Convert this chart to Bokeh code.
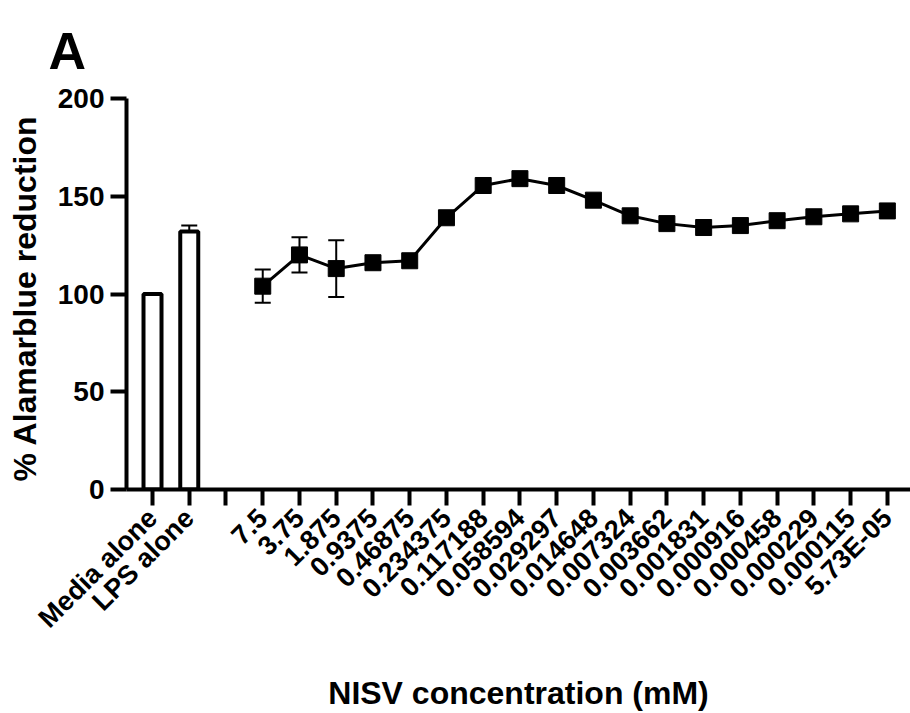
import math
from bokeh.plotting import figure
from bokeh.models import ColumnDataSource, Range1d, FixedTicker, Whisker, TeeHead
from bokeh.embed import file_html
from bokeh.resources import INLINE

# ---- data ----
bar_labels = ["Media alone", "LPS alone"]
bar_values = [100, 132]
bar_err = [0, 3]

conc_labels = ["7.5", "3.75", "1.875", "0.9375", "0.46875", "0.234375",
               "0.117188", "0.058594", "0.029297", "0.014648", "0.007324",
               "0.003662", "0.001831", "0.000916", "0.000458", "0.000229",
               "0.000115", "5.73E-05"]
conc_values = [104, 120, 113, 116, 117, 139, 155.5, 159, 155.5, 148, 140,
               136, 134, 135, 137.5, 139.5, 141, 142.5]
conc_err = [8.5, 9, 14.5, 0, 0, 0, 0, 0, 0, 0, 0, 0, 0, 0, 0, 0, 0, 0]

y_ticks = [0, 50, 100, 150, 200]

tick_labels = bar_labels + [""] + conc_labels
positions = list(range(len(tick_labels)))
bar_x = positions[:len(bar_labels)]
conc_x = positions[len(bar_labels) + 1:]

FONT = "Liberation Sans"

p = figure(width=910, height=713,
           x_range=Range1d(-0.708, 20.63), y_range=Range1d(0, 200),
           output_backend="svg", toolbar_location=None,
           min_border_left=126, min_border_right=0,
           min_border_top=98, min_border_bottom=224,
           title="A")
p.outline_line_color = None
p.grid.visible = False

# panel letter as the title
p.title.text_font = FONT
p.title.text_font_style = "bold"
p.title.text_font_size = "52px"
p.title.text_color = "black"
p.title.align = "left"
p.title.vertical_align = "bottom"
p.title.offset = -78
p.title.standoff = 38

# bars
p.vbar(x=bar_x, top=bar_values, bottom=0, width=0.49,
       fill_color="white", line_color="black", line_width=4)
bar_src = ColumnDataSource(dict(
    base=[x for x, e in zip(bar_x, bar_err) if e > 0],
    lower=[v for v, e in zip(bar_values, bar_err) if e > 0],
    upper=[v + e for v, e in zip(bar_values, bar_err) if e > 0]))
p.add_layout(Whisker(source=bar_src, base="base", lower="lower", upper="upper",
                     line_width=2, line_color="black",
                     upper_head=TeeHead(size=16, line_width=2, line_color="black"),
                     lower_head=None))

# line with markers
p.line(conc_x, conc_values, line_width=3, line_color="black")
err_src = ColumnDataSource(dict(
    base=[x for x, e in zip(conc_x, conc_err) if e > 0],
    lower=[v - e for v, e in zip(conc_values, conc_err) if e > 0],
    upper=[v + e for v, e in zip(conc_values, conc_err) if e > 0]))
p.add_layout(Whisker(source=err_src, base="base", lower="lower", upper="upper",
                     line_width=2, line_color="black",
                     upper_head=TeeHead(size=16, line_width=2, line_color="black"),
                     lower_head=TeeHead(size=16, line_width=2, line_color="black")))
p.scatter(conc_x, conc_values, marker="square", size=16,
          fill_color="black", line_color="black")

# axes
for ax in (p.xaxis[0], p.yaxis[0]):
    ax.axis_line_width = 4
    ax.axis_line_color = "black"
    ax.major_tick_line_width = 4
    ax.major_tick_line_color = "black"
    ax.major_tick_out = 16
    ax.major_tick_in = 0
    ax.minor_tick_line_color = None
    ax.major_label_text_font = FONT
    ax.major_label_text_font_style = "bold"
    ax.major_label_text_color = "black"
    ax.axis_label_text_font = FONT
    ax.axis_label_text_font_style = "bold"
    ax.axis_label_text_color = "black"
    ax.axis_label_text_font_size = "32px"

p.yaxis.ticker = FixedTicker(ticks=y_ticks)
p.yaxis.major_label_text_font_size = "28px"
p.yaxis.major_label_standoff = 6
p.yaxis.axis_label = "%  Alamarblue reduction"
p.yaxis.axis_label_standoff = 12

p.xaxis.ticker = FixedTicker(ticks=positions)
p.xaxis.major_label_overrides = {i: lab for i, lab in enumerate(tick_labels)}
p.xaxis.major_label_orientation = math.pi / 4
p.xaxis.major_label_text_font_size = "27px"
p.xaxis.major_label_standoff = 8
p.xaxis.axis_label = "NISV concentration (mM)"
p.xaxis.axis_label_standoff = 28

open("out.html", "w").write(file_html(p, INLINE))
